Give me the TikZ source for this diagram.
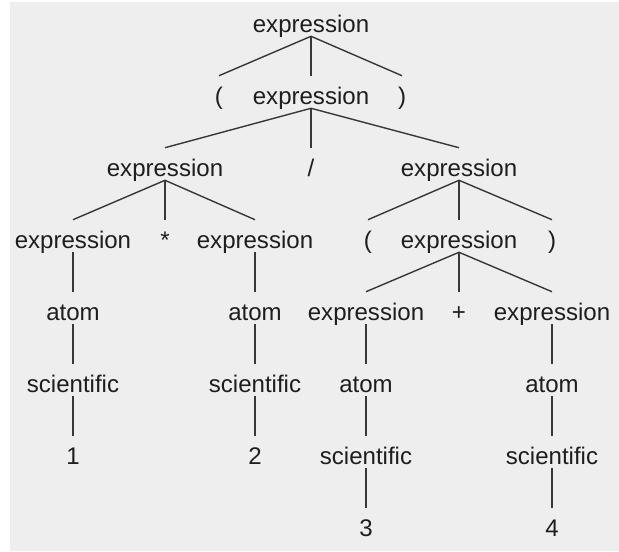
\documentclass[tikz,border=0pt]{standalone}
\usepackage{fontspec}
\setmainfont{Liberation Sans}
\definecolor{panelGray}{HTML}{EEEEEE}
\definecolor{edgeGray}{HTML}{383838}
\definecolor{labelInk}{HTML}{1E1E1E}

\begin{document}
\begin{tikzpicture}[x=0.025cm, y=-0.025cm,
	sym/.style={inner sep=0pt, anchor=base, text height=0.7cm, text depth=0.1cm, font=\fontsize{17.1}{20}\selectfont, text=labelInk},
	edge/.style={draw=edgeGray, line width=1pt}]
	\useasboundingbox (0,0) rectangle (619,552);
	\fill[white] (0,0) rectangle (619,552);
	\fill[panelGray] (10,2) rectangle (619,551);

	% level 0 and 1
	\node[sym](root) at (311,32){expression};
	\node[sym](lparA) at (219,104){(};
	\node[sym](exprA) at (311,104){expression};
	\node[sym](rparA) at (402,104){)};

	% level 2
	\node[sym](exprL) at (165,176){expression};
	\node[sym](slash) at (311,176){/};
	\node[sym](exprR) at (459,176){expression};

	% level 3
	\node[sym](exprLL) at (73,248){expression};
	\node[sym](star) at (165,248){*};
	\node[sym](exprLR) at (255,248){expression};
	\node[sym](lparB) at (368,248){(};
	\node[sym](exprB) at (459,248){expression};
	\node[sym](rparB) at (552,248){)};

	% level 4
	\node[sym](atomA) at (73,320){atom};
	\node[sym](atomB) at (255,320){atom};
	\node[sym](exprBL) at (366,320){expression};
	\node[sym](plus) at (459,320){+};
	\node[sym](exprBR) at (552,320){expression};

	% level 5
	\node[sym](sciA) at (73,392){scientific};
	\node[sym](sciB) at (255,392){scientific};
	\node[sym](atomC) at (366,392){atom};
	\node[sym](atomD) at (552,392){atom};

	% level 6 and 7
	\node[sym](numA) at (73,464){1};
	\node[sym](numB) at (255,464){2};
	\node[sym](sciC) at (366,464){scientific};
	\node[sym](sciD) at (552,464){scientific};
	\node[sym](numC) at (366,536){3};
	\node[sym](numD) at (552,536){4};

	% branches
	\draw[edge] (root.south) -- (lparA.north);
	\draw[edge] (root.south) -- (exprA.north);
	\draw[edge] (root.south) -- (rparA.north);
	\draw[edge] (exprA.south) -- (exprL.north);
	\draw[edge] (exprA.south) -- (slash.north);
	\draw[edge] (exprA.south) -- (exprR.north);
	\draw[edge] (exprL.south) -- (exprLL.north);
	\draw[edge] (exprL.south) -- (star.north);
	\draw[edge] (exprL.south) -- (exprLR.north);
	\draw[edge] (exprR.south) -- (lparB.north);
	\draw[edge] (exprR.south) -- (exprB.north);
	\draw[edge] (exprR.south) -- (rparB.north);
	\draw[edge] (exprB.south) -- (exprBL.north);
	\draw[edge] (exprB.south) -- (plus.north);
	\draw[edge] (exprB.south) -- (exprBR.north);

	% chains down to the numbers
	\draw[edge] (exprLL.south) -- (atomA.north);
	\draw[edge] (atomA.south) -- (sciA.north);
	\draw[edge] (sciA.south) -- (numA.north);
	\draw[edge] (exprLR.south) -- (atomB.north);
	\draw[edge] (atomB.south) -- (sciB.north);
	\draw[edge] (sciB.south) -- (numB.north);
	\draw[edge] (exprBL.south) -- (atomC.north);
	\draw[edge] (atomC.south) -- (sciC.north);
	\draw[edge] (sciC.south) -- (numC.north);
	\draw[edge] (exprBR.south) -- (atomD.north);
	\draw[edge] (atomD.south) -- (sciD.north);
	\draw[edge] (sciD.south) -- (numD.north);
\end{tikzpicture}
\end{document}
